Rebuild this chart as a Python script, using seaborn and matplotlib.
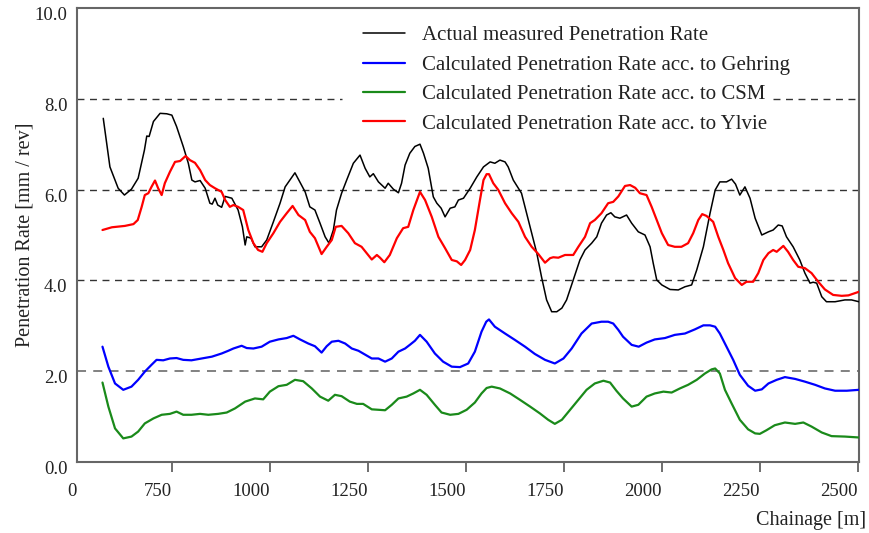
import matplotlib
matplotlib.use("Agg")
import matplotlib.pyplot as plt
from matplotlib.transforms import ScaledTranslation
import seaborn as sns
import pandas as pd

# Chainage [m] and penetration rate [mm/rev] for each series
measured_x = [575, 592, 613, 629, 647, 664, 680, 686, 692, 703, 720, 737, 750, 762, 779, 792, 801, 809,
              822, 835, 847, 853, 860, 867, 877, 886, 903, 919, 930, 937, 941, 952, 962, 979, 992, 1009,
              1026, 1039, 1051, 1064, 1074, 1090, 1102, 1115, 1128, 1141, 1151, 1162, 1170, 1183, 1196,
              1213, 1230, 1243, 1255, 1264, 1277, 1294, 1302, 1315, 1328, 1336, 1345, 1357, 1370, 1383,
              1392, 1404, 1417, 1426, 1437, 1447, 1460, 1472, 1481, 1494, 1511, 1528, 1545, 1562, 1574,
              1587, 1600, 1608, 1621, 1634, 1642, 1655, 1668, 1681, 1693, 1706, 1719, 1732, 1745, 1757,
              1774, 1791, 1804, 1821, 1834, 1846, 1859, 1870, 1880, 1893, 1910, 1923, 1940, 1957, 1970,
              1978, 1987, 2000, 2021, 2042, 2059, 2076, 2089, 2106, 2123, 2136, 2148, 2165, 2178, 2188,
              2199, 2212, 2225, 2238, 2255, 2272, 2284, 2297, 2307, 2318, 2335, 2352, 2365, 2378, 2386,
              2395, 2408, 2420, 2442, 2467, 2484, 2503]
measured_y = [7.57, 6.50, 6.03, 5.88, 6.01, 6.25, 6.87, 7.18, 7.17, 7.50, 7.68, 7.67, 7.64, 7.39, 6.95,
              6.58, 6.21, 6.17, 6.20, 6.03, 5.70, 5.68, 5.81, 5.66, 5.61, 5.85, 5.81, 5.55, 5.18, 4.78,
              4.96, 4.93, 4.74, 4.74, 4.89, 5.29, 5.70, 6.06, 6.21, 6.37, 6.21, 5.95, 5.62, 5.55, 5.26,
              4.96, 4.82, 5.11, 5.55, 5.92, 6.21, 6.58, 6.76, 6.47, 6.28, 6.35, 6.17, 6.03, 6.14, 6.01,
              5.93, 6.14, 6.54, 6.80, 6.95, 7.00, 6.80, 6.47, 5.84, 5.70, 5.59, 5.40, 5.59, 5.62, 5.77,
              5.81, 6.03, 6.28, 6.50, 6.61, 6.58, 6.65, 6.61, 6.50, 6.21, 6.03, 5.92, 5.48, 5.04, 4.60,
              4.08, 3.57, 3.31, 3.31, 3.39, 3.57, 4.01, 4.45, 4.67, 4.82, 4.96, 5.26, 5.44, 5.49, 5.40,
              5.37, 5.44, 5.26, 5.07, 5.00, 4.74, 4.38, 4.01, 3.90, 3.80, 3.79, 3.86, 3.90, 4.23, 4.74,
              5.48, 5.99, 6.17, 6.17, 6.23, 6.12, 5.88, 6.06, 5.81, 5.37, 5.00, 5.07, 5.11, 5.22, 5.20,
              4.96, 4.74, 4.45, 4.16, 3.94, 3.96, 3.94, 3.64, 3.53, 3.53, 3.57, 3.57, 3.53]

gehring_x = [573, 588, 605, 626, 647, 664, 681, 698, 711, 728, 745, 762, 779, 800, 826, 852, 877, 894,
             907, 928, 941, 958, 979, 1000, 1022, 1043, 1060, 1077, 1098, 1115, 1132, 1145, 1158, 1175,
             1192, 1209, 1226, 1238, 1260, 1277, 1294, 1311, 1328, 1345, 1357, 1370, 1383, 1400, 1421,
             1442, 1464, 1485, 1506, 1523, 1540, 1552, 1559, 1574, 1600, 1625, 1651, 1676, 1702, 1727,
             1749, 1770, 1795, 1821, 1846, 1863, 1876, 1889, 1901, 1923, 1941, 1961, 1982, 2008, 2033,
             2059, 2084, 2106, 2123, 2136, 2148, 2165, 2182, 2199, 2220, 2238, 2255, 2272, 2293, 2314,
             2340, 2365, 2391, 2416, 2442, 2472, 2503]
gehring_y = [2.54, 2.10, 1.73, 1.59, 1.66, 1.81, 1.99, 2.14, 2.25, 2.24, 2.28, 2.29, 2.25, 2.24, 2.28,
             2.32, 2.39, 2.45, 2.50, 2.56, 2.51, 2.50, 2.54, 2.65, 2.70, 2.73, 2.78, 2.70, 2.61, 2.55,
             2.41, 2.55, 2.65, 2.67, 2.61, 2.50, 2.45, 2.39, 2.28, 2.28, 2.21, 2.28, 2.43, 2.50, 2.58,
             2.67, 2.80, 2.65, 2.39, 2.21, 2.10, 2.09, 2.17, 2.43, 2.87, 3.09, 3.14, 2.98, 2.83, 2.69,
             2.54, 2.38, 2.25, 2.17, 2.28, 2.50, 2.83, 3.05, 3.09, 3.09, 3.05, 2.91, 2.76, 2.58, 2.54,
             2.63, 2.70, 2.73, 2.80, 2.83, 2.92, 3.01, 3.01, 2.98, 2.83, 2.54, 2.25, 1.92, 1.68, 1.57,
             1.60, 1.73, 1.81, 1.87, 1.83, 1.77, 1.70, 1.62, 1.57, 1.57, 1.59]

csm_x = [573, 588, 605, 626, 647, 664, 681, 703, 724, 745, 762, 779, 800, 822, 843, 868, 890, 911, 937,
         962, 983, 1000, 1022, 1043, 1064, 1085, 1107, 1128, 1149, 1166, 1183, 1204, 1222, 1238, 1260,
         1277, 1294, 1311, 1328, 1349, 1366, 1383, 1400, 1421, 1438, 1460, 1481, 1502, 1523, 1540, 1553,
         1566, 1587, 1613, 1638, 1664, 1689, 1710, 1727, 1745, 1766, 1787, 1808, 1829, 1851, 1868, 1884,
         1901, 1923, 1940, 1961, 1982, 2004, 2025, 2046, 2067, 2089, 2110, 2127, 2136, 2148, 2161, 2178,
         2199, 2220, 2238, 2250, 2267, 2288, 2314, 2340, 2361, 2382, 2408, 2433, 2467, 2503]
csm_y = [1.75, 1.22, 0.74, 0.52, 0.56, 0.67, 0.85, 0.96, 1.04, 1.06, 1.11, 1.04, 1.04, 1.06, 1.04, 1.06,
         1.09, 1.18, 1.33, 1.40, 1.38, 1.55, 1.67, 1.70, 1.81, 1.78, 1.62, 1.44, 1.35, 1.48, 1.45, 1.33,
         1.28, 1.28, 1.16, 1.15, 1.14, 1.26, 1.40, 1.44, 1.51, 1.59, 1.48, 1.26, 1.09, 1.04, 1.06, 1.15,
         1.31, 1.51, 1.63, 1.66, 1.62, 1.51, 1.37, 1.22, 1.07, 0.93, 0.84, 0.93, 1.15, 1.37, 1.59, 1.73,
         1.79, 1.75, 1.57, 1.40, 1.22, 1.26, 1.44, 1.51, 1.55, 1.53, 1.62, 1.70, 1.81, 1.95, 2.04, 2.06,
         1.95, 1.59, 1.29, 0.93, 0.72, 0.63, 0.62, 0.70, 0.81, 0.87, 0.84, 0.87, 0.78, 0.65, 0.57, 0.56,
         0.54]

ylvie_x = [573, 597, 630, 652, 663, 673, 681, 690, 698, 707, 715, 724, 732, 745, 758, 771, 785, 796, 809,
           822, 835, 847, 860, 877, 886, 898, 907, 919, 932, 945, 958, 970, 981, 992, 1009, 1026, 1043,
           1058, 1073, 1090, 1102, 1115, 1132, 1145, 1158, 1168, 1183, 1200, 1217, 1234, 1247, 1260, 1273,
           1281, 1292, 1306, 1324, 1340, 1353, 1366, 1383, 1396, 1413, 1430, 1447, 1464, 1477, 1488, 1498,
           1511, 1523, 1536, 1545, 1553, 1559, 1570, 1583, 1600, 1617, 1634, 1651, 1668, 1685, 1702, 1715,
           1723, 1736, 1753, 1774, 1787, 1804, 1817, 1829, 1846, 1863, 1876, 1889, 1906, 1919, 1932, 1944,
           1961, 1974, 1987, 2000, 2016, 2033, 2050, 2067, 2080, 2093, 2103, 2114, 2131, 2144, 2157, 2169,
           2187, 2204, 2216, 2233, 2246, 2259, 2272, 2284, 2293, 2310, 2322, 2335, 2348, 2365, 2382, 2399,
           2416, 2437, 2459, 2476, 2493, 2503]
ylvie_y = [5.11, 5.17, 5.20, 5.24, 5.33, 5.62, 5.88, 5.92, 6.06, 6.20, 6.03, 5.88, 6.14, 6.39, 6.61, 6.63,
           6.74, 6.65, 6.59, 6.43, 6.21, 6.10, 6.03, 5.95, 5.77, 5.62, 5.66, 5.62, 5.55, 5.11, 4.82, 4.67,
           4.63, 4.82, 5.04, 5.29, 5.48, 5.64, 5.44, 5.33, 5.07, 4.93, 4.58, 4.74, 4.89, 5.18, 5.20, 5.04,
           4.82, 4.74, 4.60, 4.46, 4.56, 4.50, 4.40, 4.56, 4.93, 5.15, 5.18, 5.55, 5.95, 5.77, 5.40, 4.96,
           4.71, 4.45, 4.42, 4.34, 4.45, 4.67, 5.11, 5.77, 6.21, 6.34, 6.34, 6.14, 5.99, 5.70, 5.48, 5.29,
           4.96, 4.74, 4.58, 4.39, 4.49, 4.51, 4.50, 4.56, 4.56, 4.74, 4.96, 5.26, 5.33, 5.48, 5.70, 5.73,
           5.85, 6.08, 6.10, 6.04, 5.92, 5.88, 5.62, 5.33, 5.04, 4.78, 4.74, 4.74, 4.82, 5.04, 5.33, 5.46,
           5.42, 5.29, 4.96, 4.67, 4.38, 4.05, 3.90, 3.97, 3.97, 4.16, 4.45, 4.60, 4.67, 4.63, 4.76, 4.63,
           4.45, 4.30, 4.27, 4.16, 3.97, 3.80, 3.68, 3.66, 3.67, 3.72, 3.75]

series_labels = [
    "Actual measured Penetration Rate",
    "Calculated Penetration Rate acc. to Gehring",
    "Calculated Penetration Rate acc. to CSM",
    "Calculated Penetration Rate acc. to Ylvie",
]
series_colors = ["#000000", "#0000ff", "#1a8a1a", "#ff0000"]
series_widths = [1.1, 1.6, 1.6, 1.6]

x_ticks = [508, 750, 1000, 1250, 1500, 1750, 2000, 2250, 2500]
x_tick_labels = ["0", "750", "1000", "1250", "1500", "1750", "2000", "2250", "2500"]
y_ticks = [0, 2, 4, 6, 8, 10]
y_tick_labels = ["0.0", "2.0", "4.0", "6.0", "8.0", "10.0"]

sns.set_style("white")
plt.rcParams["font.family"] = ["Liberation Serif", "DejaVu Serif"]
plt.rcParams["text.color"] = "#222222"

frames = []
for label, xs, ys in zip(series_labels,
                         [measured_x, gehring_x, csm_x, ylvie_x],
                         [measured_y, gehring_y, csm_y, ylvie_y]):
    frames.append(pd.DataFrame({"chainage": xs, "rate": ys, "series": label}))
data = pd.concat(frames, ignore_index=True)

fig = plt.figure(figsize=(8.7, 5.33), dpi=100)
ax = fig.add_axes([77 / 870, 1 - 462 / 533, (859 - 77) / 870, (462 - 8) / 533])

# dashed reference lines; the one at 8.0 is interrupted by the legend
for level in [2, 4, 6]:
    ax.axhline(level, color="#777777" if level == 2 else "#333333",
               lw=1.3 if level == 2 else 1.0, ls=(0, (5, 4)), zorder=1)
ax.axhline(8, xmax=0.339, color="#333333", lw=1.0, ls=(0, (5, 4)), zorder=1)
ax.axhline(8, xmin=0.89, color="#333333", lw=1.0, ls=(0, (5, 4)), zorder=1)

for label, color, lw in zip(series_labels, series_colors, series_widths):
    sub = data[data["series"] == label]
    sns.lineplot(data=sub, x="chainage", y="rate", color=color, lw=lw,
                 estimator=None, sort=False, label=label, ax=ax, zorder=3)

ax.set_xlim(508, 2503)
ax.set_ylim(0, 10)
ax.set_xticks(x_ticks)
ax.set_xticklabels(x_tick_labels, ha="right")
ax.set_yticks(y_ticks)
ax.set_yticklabels(y_tick_labels)
ax.tick_params(axis="x", length=7, width=1.2, color="#555555", labelsize=13.5, pad=8,
               labelcolor="#222222", direction="out", bottom=True)
ax.tick_params(axis="y", length=0, labelsize=13.5, pad=7, labelcolor="#222222")
ax.xaxis.get_major_ticks()[0].tick1line.set_visible(False)

# y tick labels sit slightly below their grid levels
shift = ScaledTranslation(0, -4 / 72, fig.dpi_scale_trans)
for lbl in ax.get_yticklabels():
    lbl.set_transform(lbl.get_transform() + shift)

for spine in ax.spines.values():
    spine.set_color("#666666")
    spine.set_linewidth(1.5)

ax.set_xlabel("")
ax.set_ylabel("Penetration Rate [mm / rev]", fontsize=14.5, color="#222222", labelpad=0)
fig.text(866 / 870, 1 - 520 / 533, "Chainage [m]", ha="right", va="center",
         fontsize=14.5, color="#222222")

leg = ax.legend(loc="upper left", bbox_to_anchor=(0.355, 0.979), frameon=False,
                fontsize=15, handlelength=2.0, handletextpad=0.85, labelspacing=0.47,
                borderaxespad=0.0)

fig.savefig("out.png", dpi=100)
